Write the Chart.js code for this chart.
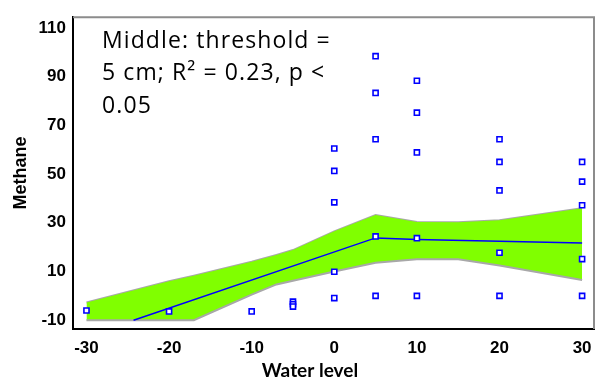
<!DOCTYPE html>
<html>
<head>
<meta charset="utf-8">
<script src="https://cdn.jsdelivr.net/npm/chart.js@4/dist/chart.umd.min.js"></script>
<style>
  html, body { margin: 0; padding: 0; background: #ffffff; }
  #wrap { width: 601px; height: 384px; }
</style>
</head>
<body>
<div id="wrap"><canvas id="methane-chart" width="601" height="384"></canvas></div>
<script>
// observed values
var waterLevel = [-30, -20, -10, -5, -5, -5,
  0, 0, 0, 0, 0,
  5, 5, 5, 5, 5,
  10, 10, 10, 10, 10,
  20, 20, 20, 20, 20,
  30, 30, 30, 30, 30];
var methane = [-6, -6.4, -6.4, -2.4, -3.4, -4.4,
  60.5, 51.3, 38.4, 9.9, -0.9,
  98.4, 83.3, 64.3, 24.4, 0,
  88.3, 75.2, 58.9, 23.7, 0,
  64.3, 55, 43.3, 17.7, 0,
  55, 46.9, 37.2, 15.1, 0];

// fitted threshold model
var fitX = [-24.3, 5, 10, 30];
var fitY = [-10, 23.8, 23.1, 21.7];

// confidence band
var bandX = [-30, -20, -17, -10, -7, -5, 0, 5, 10, 15, 20, 30];
var bandUpper = [-2.7, 6, 8.3, 14, 16.8, 18.8, 26.5, 33.2, 30.3, 30.2, 31, 36];
var bandLower = [-10, -10, -10, 0.5, 4.7, 6.2, 10, 13.6, 15, 15, 12.5, 6.5];

var xTicks = [-30, -20, -10, 0, 10, 20, 30];
var yTicks = [-10, 10, 30, 50, 70, 90, 110];

var annotationLines = ["Middle: threshold =", "5 cm; R\u00b2 = 0.23, p <", "0.05"];

function toPoints(xs, ys) {
  return xs.map(function (x, i) {
    return { x: x, y: ys[i] };
  });
}

var tickFont = { family: "'Liberation Sans', Arial, sans-serif", size: 17, weight: "bold" };

var framePlugin = {
  id: "frame",
  afterDraw: function (chart) {
    var ctx = chart.ctx;
    var a = chart.chartArea;
    ctx.save();
    ctx.strokeStyle = "#8c8c8c";
    ctx.lineWidth = 2;
    ctx.beginPath();
    ctx.moveTo(a.left, a.top);
    ctx.lineTo(a.right, a.top);
    ctx.lineTo(a.right, a.bottom);
    ctx.stroke();

    ctx.fillStyle = "#000000";
    ctx.textBaseline = "middle";
    ctx.textAlign = "left";
    ctx.font = "23px 'Open Sans', Lato, sans-serif";
    ctx.letterSpacing = "1.1px";
    annotationLines.forEach(function (line, i) {
      ctx.fillText(line, 102, 41 + i * 32.5);
    });
    ctx.letterSpacing = "0px";

    ctx.textAlign = "center";
    ctx.font = "bold 19px Lato, sans-serif";
    ctx.fillText("Water level", 310, 371);
    ctx.restore();
  },
};

var ctx = document.getElementById("methane-chart");

new Chart(ctx, {
  type: "scatter",
  data: {
    datasets: [
      {
        label: "upper",
        data: toPoints(bandX, bandUpper),
        showLine: true,
        borderColor: "#a8a8a8",
        borderWidth: 2,
        pointRadius: 0,
        fill: false,
        order: 4,
      },
      {
        label: "lower",
        data: toPoints(bandX, bandLower),
        showLine: true,
        borderColor: "#a8a8a8",
        borderWidth: 2,
        pointRadius: 0,
        backgroundColor: "#80ff00",
        fill: 0,
        order: 3,
      },
      {
        label: "fit",
        data: toPoints(fitX, fitY),
        showLine: true,
        borderColor: "#0000ff",
        borderWidth: 1.5,
        pointRadius: 0,
        order: 2,
      },
      {
        label: "Methane",
        data: toPoints(waterLevel, methane),
        pointStyle: "rect",
        pointRadius: 3.6,
        pointBorderWidth: 1.6,
        borderColor: "#0000ff",
        backgroundColor: "#ffffff",
        order: 1,
      },
    ],
  },
  options: {
    responsive: false,
    animation: false,
    layout: {
      padding: { top: 9, right: 7, left: 0, bottom: 0 },
    },
    plugins: {
      legend: { display: false },
      tooltip: { enabled: false },
    },
    scales: {
      x: {
        type: "linear",
        min: -31.63,
        max: 31.44,
        grid: { display: false, drawTicks: false },
        border: { display: true, color: "#000000", width: 2 },
        ticks: { font: tickFont, color: "#000000", padding: 9, maxRotation: 0 },
        afterBuildTicks: function (scale) {
          scale.ticks = xTicks.map(function (v) { return { value: v }; });
        },
        afterFit: function (scale) {
          scale.height = 55;
        },
      },
      y: {
        type: "linear",
        min: -13.6,
        max: 114.4,
        grid: { display: false, drawTicks: false },
        border: { display: true, color: "#000000", width: 2 },
        ticks: { font: tickFont, color: "#000000", padding: 7 },
        afterBuildTicks: function (scale) {
          scale.ticks = yTicks.map(function (v) { return { value: v }; });
        },
        afterFit: function (scale) {
          scale.width = 73;
        },
        title: {
          display: true,
          text: "Methane",
          color: "#000000",
          font: { family: "'Liberation Sans', Arial, sans-serif", size: 18, weight: "bold" },
          padding: { top: 10, bottom: 0 },
        },
      },
    },
  },
  plugins: [framePlugin],
});
</script>
</body>
</html>
